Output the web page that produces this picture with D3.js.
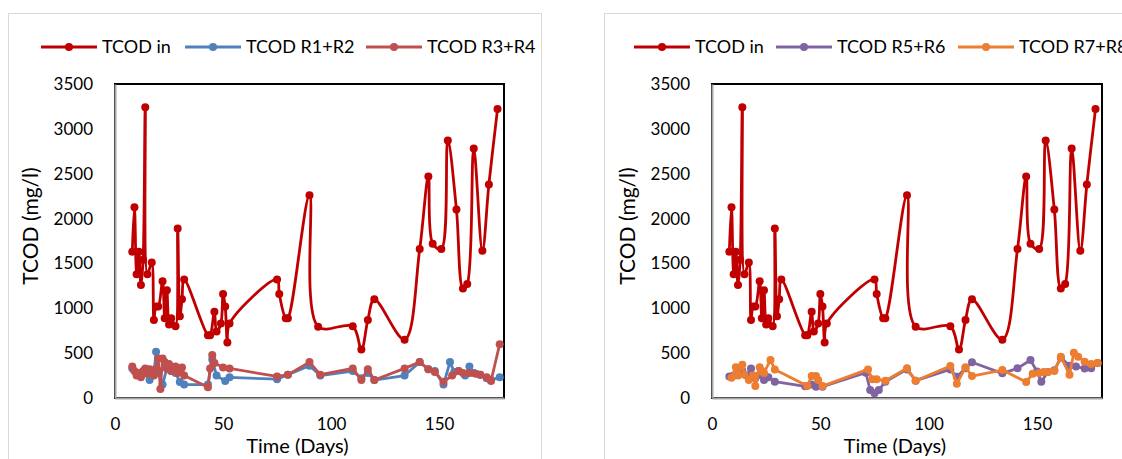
<!DOCTYPE html>
<html>
<head>
<meta charset="utf-8">
<script src="https://cdn.jsdelivr.net/npm/d3@7"></script>
<style>
  html, body { margin: 0; padding: 0; background: #fff; }
  svg { display: block; }
  text { font-family: Lato, "Open Sans", sans-serif; fill: #000; }
</style>
</head>
<body>
<svg id="chart" width="1122" height="459"></svg>
<script>
// ---- Data: total COD (mg/l) over time (days) ----
const inDays  = [8, 9, 10, 11, 12, 13, 14, 15, 17, 18, 19, 20, 22, 23, 24, 25, 26, 28, 29, 30, 31, 32,
                 43, 44, 46, 47, 49, 50, 51, 52, 53, 75, 76, 79, 80, 90, 94, 110, 114, 117, 120, 134,
                 141, 145, 147, 151, 154, 158, 161, 163, 166, 170, 173, 177];
const inTcod  = [1630, 2125, 1380, 1630, 1260, 1540, 3240, 1380, 1510, 870, 1020, 1020, 1300, 890, 1200, 820, 890, 800, 1890, 910, 1100, 1320,
                 700, 700, 960, 740, 830, 1160, 1020, 620, 830, 1320, 1160, 890, 890, 2260, 795, 800, 540, 870, 1100, 650,
                 1660, 2470, 1720, 1660, 2870, 2100, 1220, 1270, 2780, 1640, 2380, 3220];

const r12Days = [8, 10, 12, 14, 16, 18, 19, 20, 22, 24, 26, 28, 30, 32, 43, 45, 47, 51, 53, 75, 80, 90, 95, 110, 114, 117, 120,
                 134, 141, 145, 148, 152, 155, 157, 159, 162, 164, 166, 169, 172, 174, 178];
const r12Tcod = [330, 280, 250, 300, 200, 260, 515, 300, 150, 330, 300, 280, 178, 150, 150, 430, 250, 190, 230, 210, 260, 360, 250, 300, 220, 280, 200,
                 250, 400, 320, 300, 150, 400, 290, 300, 250, 350, 280, 260, 220, 200, 230];

const r34Days = [8, 9, 10, 11, 12, 13, 14, 15, 16, 17, 18, 19, 20, 21, 22, 23, 24, 25, 26, 28, 29, 30, 31, 32, 43, 44, 45, 46, 50, 53,
                 75, 80, 90, 95, 110, 114, 117, 120, 134, 141, 145, 148, 152, 156, 159, 161, 164, 167, 169, 172, 174, 178];
const r34Tcod = [350, 300, 250, 280, 230, 300, 330, 270, 320, 300, 250, 330, 440, 100, 440, 400, 330, 380, 300, 350, 280, 330, 340, 250,
                 120, 330, 480, 390, 340, 330, 240, 260, 400, 260, 330, 200, 320, 200, 330, 400, 320, 290, 180, 250, 300, 280, 280, 270, 260, 230, 190, 600];

const r56Days = [8, 10, 12, 14, 16, 18, 20, 22, 24, 26, 29, 43, 46, 48, 51, 71, 73, 75, 77, 80, 90, 94, 110, 113, 117, 120,
                 134, 141, 147, 150, 152, 155, 158, 161, 165, 168, 172, 175, 178];
const r56Tcod = [240, 250, 330, 300, 250, 330, 220, 260, 200, 230, 182, 130, 150, 126, 126, 282, 89, 52, 89, 182, 319, 193, 319, 238, 331, 398,
                 275, 331, 424, 294, 182, 290, 310, 450, 360, 350, 330, 331, 390];

const r78Days = [9, 11, 12, 14, 15, 17, 19, 20, 22, 23, 24, 27, 29, 44, 46, 48, 49, 51, 72, 74, 76, 80, 90, 94, 110, 113, 117, 120,
                 134, 145, 148, 151, 153, 155, 158, 161, 165, 167, 169, 172, 175, 178];
const r78Tcod = [227, 343, 250, 370, 260, 200, 250, 133, 343, 300, 280, 424, 319, 133, 245, 245, 200, 133, 319, 208, 208, 193, 331, 193, 357, 160, 343, 245,
                 312, 178, 271, 280, 290, 290, 300, 460, 260, 505, 460, 405, 380, 390];

const xTicks = [0, 50, 100, 150];
const yTicks = [0, 500, 1000, 1500, 2000, 2500, 3000, 3500];

const seriesInfo = {
  tin: { name: "TCOD in",    days: inDays,  vals: inTcod,  color: "#C00000", smooth: true },
  r12: { name: "TCOD R1+R2", days: r12Days, vals: r12Tcod, color: "#4F81BD", smooth: false },
  r34: { name: "TCOD R3+R4", days: r34Days, vals: r34Tcod, color: "#C0504D", smooth: false },
  r56: { name: "TCOD R5+R6", days: r56Days, vals: r56Tcod, color: "#8064A2", smooth: false },
  r78: { name: "TCOD R7+R8", days: r78Days, vals: r78Tcod, color: "#ED7D31", smooth: false }
};

// ---- Layout of the two chart panels ----
const panels = [
  { frame: { x: 8,   y: 13, w: 533, h: 470 }, plot: { x: 115, y: 84, w: 389, h: 314 },
    series: ["tin", "r12", "r34"], legendX: [41, 185, 366] },
  { frame: { x: 604, y: 13, w: 540, h: 470 }, plot: { x: 712, y: 84, w: 390, h: 314 },
    series: ["tin", "r56", "r78"], legendX: [634, 776, 958] }
];

const svg = d3.select("#chart");

panels.forEach(p => {
  const g = svg.append("g");

  g.append("rect")
    .attr("x", p.frame.x + 0.5).attr("y", p.frame.y + 0.5)
    .attr("width", p.frame.w).attr("height", p.frame.h)
    .attr("fill", "#fff").attr("stroke", "#d9d9d9").attr("stroke-width", 1);

  const x = d3.scaleLinear().domain([0, 180]).range([p.plot.x, p.plot.x + p.plot.w]);
  const y = d3.scaleLinear().domain([0, 3500]).range([p.plot.y + p.plot.h, p.plot.y]);

  // plot area border (black), axis lines drawn over it in grey
  g.append("rect")
    .attr("x", p.plot.x).attr("y", p.plot.y)
    .attr("width", p.plot.w).attr("height", p.plot.h)
    .attr("fill", "none").attr("stroke", "#000").attr("stroke-width", 2);

  const xAxis = d3.axisBottom(x).tickValues(xTicks).tickFormat(d3.format("d")).tickSize(0).tickPadding(20);
  const yAxis = d3.axisLeft(y).tickValues(yTicks).tickFormat(d3.format("d")).tickSize(0).tickPadding(22);

  const gx = g.append("g").attr("transform", `translate(0,${p.plot.y + p.plot.h})`).call(xAxis);
  const gy = g.append("g").attr("transform", `translate(${p.plot.x},0)`).call(yAxis);
  [gx, gy].forEach(a => {
    a.select(".domain").attr("stroke", "#a6a6a6").attr("stroke-width", 2);
    a.selectAll("text").attr("font-size", 17).attr("font-family", "Lato, 'Open Sans', sans-serif").attr("fill", "#000");
  });

  // axis titles
  g.append("text")
    .attr("x", p.plot.x + p.plot.w / 2 - 12).attr("y", 453)
    .attr("text-anchor", "middle").attr("font-size", 20)
    .text("Time (Days)");
  g.append("text")
    .attr("transform", `translate(${p.plot.x - 77},${226}) rotate(-90)`)
    .attr("text-anchor", "middle").attr("font-size", 21)
    .text("TCOD (mg/l)");

  // series
  p.series.forEach(key => {
    const s = seriesInfo[key];
    const pts = s.days.map((d, i) => [d, s.vals[i]]);
    const line = d3.line()
      .x(d => x(d[0])).y(d => y(d[1]))
      .curve(s.smooth ? d3.curveCatmullRom.alpha(0.5) : d3.curveLinear);
    const sg = g.append("g");
    sg.append("path").datum(pts)
      .attr("d", line).attr("fill", "none")
      .attr("stroke", s.color).attr("stroke-width", 2.8)
      .attr("stroke-linejoin", "round");
    sg.selectAll("circle").data(pts).join("circle")
      .attr("cx", d => x(d[0])).attr("cy", d => y(d[1]))
      .attr("r", 4).attr("fill", s.color);
  });

  // legend
  p.series.forEach((key, i) => {
    const s = seriesInfo[key];
    const lx = p.legendX[i], ly = 47;
    const lg = g.append("g");
    lg.append("line").attr("x1", lx).attr("x2", lx + 56).attr("y1", ly).attr("y2", ly)
      .attr("stroke", s.color).attr("stroke-width", 2.8);
    lg.append("circle").attr("cx", lx + 28).attr("cy", ly).attr("r", 4).attr("fill", s.color);
    lg.append("text").attr("x", lx + 61).attr("y", ly + 6)
      .attr("font-size", 18).text(s.name);
  });
});
</script>
</body>
</html>
